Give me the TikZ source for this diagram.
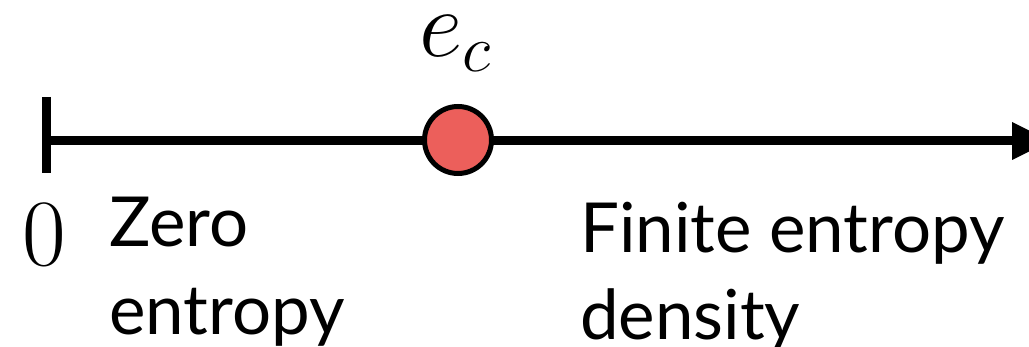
\documentclass[tikz,border=0pt]{standalone}
\usepackage{fix-cm}
\usepackage[no-math]{fontspec}
\newfontfamily\gill{Lato}
\definecolor{dotred}{RGB}{236,95,91}
\begin{document}
\begin{tikzpicture}[x=1pt,y=1pt,
  axis/.style={line width=9pt},
  lbl/.style={inner sep=0pt,anchor=base west,font=\gill\fontsize{69}{84}\selectfont},
  mth/.style={inner sep=0pt,anchor=base,font=\fontsize{95}{110}\selectfont}]
\useasboundingbox (0,0) rectangle (1029,-347);
\clip (0,0) rectangle (1029,-347);
\coordinate (start) at (46.5,-141);
\coordinate (tip) at (1014,-141);
\draw[axis] (start) -- (tip);
\draw[line width=9pt] (46.5,-97) -- (46.5,-173);
\fill (1012,-122) -- (1050,-141) -- (1012,-160) -- cycle;
\node[circle,draw=black,fill=dotred,line width=5pt,minimum size=67pt,inner sep=0pt] (ec) at (458,-140) {};
\node[mth] (eclbl) at (455,-57) {$e_c$};
\node[mth] (zero) at (44,-266) {$0$};
\node[lbl] (z1) at (109,-247) {Zero};
\node[lbl] (z2) at (109,-335) {entropy};
\node[lbl] (f1) at (580,-253) {Finite entropy};
\node[lbl] (f2) at (580,-340) {density};
\end{tikzpicture}
\end{document}
